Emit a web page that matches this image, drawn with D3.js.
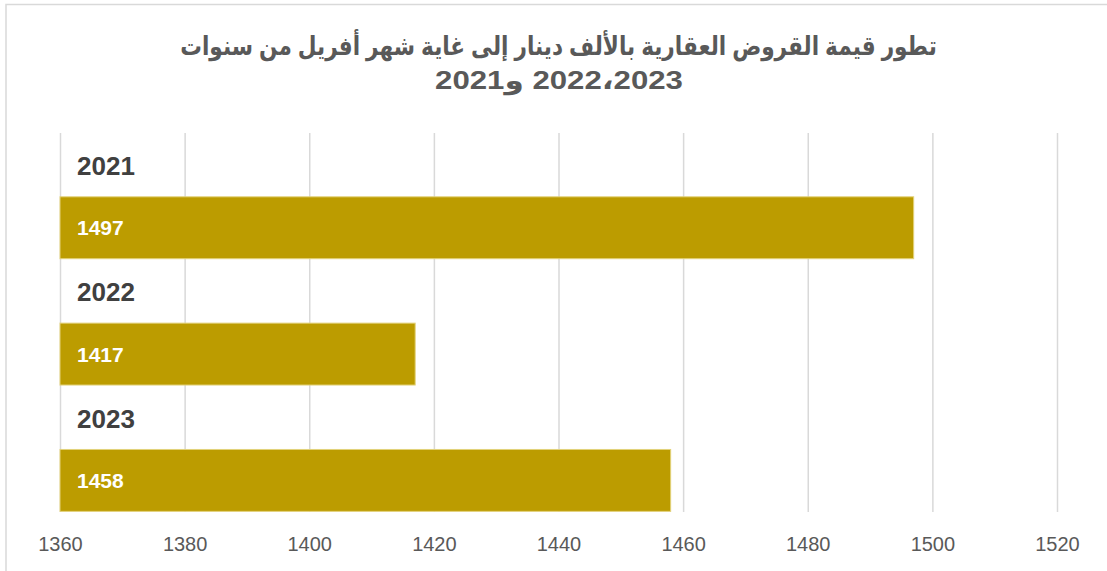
<!DOCTYPE html>
<html>
<head>
<meta charset="utf-8">
<script src="https://cdn.jsdelivr.net/npm/d3@7"></script>
<style>
  html, body { margin: 0; padding: 0; background: #fff; }
  svg { display: block; }
</style>
</head>
<body>
<svg id="chart" width="1107" height="571"></svg>
<script>
const categories = ["2021", "2022", "2023"];
const values = [1497, 1417, 1458];
const tickValues = [1360, 1380, 1400, 1420, 1440, 1460, 1480, 1500, 1520];
const titleLines = ["تطور قيمة القروض العقارية بالألف دينار إلى غاية شهر أفريل من سنوات", "2023،2022 و2021"];

const svg = d3.select("#chart");
const W = 1107, H = 571;

// frame
svg.append("rect").attr("x", 6).attr("y", 4.5).attr("width", W + 10).attr("height", H + 10)
  .attr("fill", "#fff").attr("stroke", "#d9d9d9").attr("stroke-width", 1.5);

const plot = { left: 60, right: 1057, top: 133, bottom: 512 };
const x = d3.scaleLinear().domain([1360, 1520]).range([plot.left, plot.right]);
const y = d3.scaleBand().domain(categories).range([plot.top, plot.bottom]);

// gridlines
const grid = svg.append("g").attr("transform", `translate(0,${plot.bottom})`)
  .call(d3.axisBottom(x).tickValues(tickValues).tickSize(-(plot.bottom - plot.top)).tickFormat(""));
grid.select(".domain").remove();
grid.selectAll(".tick line").attr("stroke", "#d9d9d9").attr("stroke-width", 1.5);

// axis labels
const ax = svg.append("g").attr("transform", `translate(0,${plot.bottom})`)
  .call(d3.axisBottom(x).tickValues(tickValues).tickSize(0).tickPadding(0).tickFormat(d3.format("d")));
ax.select(".domain").remove();
ax.selectAll(".tick text")
  .attr("y", 39).attr("dy", 0)
  .attr("font-family", "'Liberation Sans', Arial, sans-serif")
  .attr("font-size", 20).attr("fill", "#595959");

// bars
const bw = y.bandwidth();
svg.append("g").selectAll("rect").data(categories).join("rect")
  .attr("x", x(1360))
  .attr("y", d => y(d) + bw * 0.505)
  .attr("width", (d, i) => x(values[i]) - x(1360))
  .attr("height", bw * 0.49)
  .attr("fill", "#bc9c00")
  .attr("stroke", "#e3d27a").attr("stroke-width", 1);

// bar value labels
svg.append("g").selectAll("text").data(categories).join("text")
  .attr("x", 77)
  .attr("y", d => y(d) + bw * 0.505 + bw * 0.245 + 7.5)
  .attr("font-family", "'Liberation Sans', Arial, sans-serif")
  .attr("font-weight", "bold").attr("font-size", 21).attr("fill", "#fff")
  .text((d, i) => values[i]);

// category labels
svg.append("g").selectAll("text").data(categories).join("text")
  .attr("x", 77)
  .attr("y", d => y(d) + bw * 0.25 + 10.5)
  .attr("font-family", "'Liberation Sans', Arial, sans-serif")
  .attr("font-weight", "bold").attr("font-size", 26).attr("fill", "#404040")
  .text(d => d);

// title (right-to-left embedding; RLM around the Arabic comma keeps the years as separate runs)
const targets = [{ w: 757, cx: 558.5, base: 55 }, { w: 248, cx: 559, base: 89 }];
titleLines.forEach((line, i) => {
  const g = svg.append("g");
  const t = g.append("text")
    .attr("x", 0).attr("y", 0)
    .attr("text-anchor", "middle")
    .attr("font-family", "'Liberation Sans', 'DejaVu Sans', Arial, sans-serif")
    .attr("font-weight", "bold").attr("font-size", 26).attr("fill", "#595959")
    .text("\u202B" + line.replace(/،/g, "\u200F،\u200F") + "\u202C");
  const bb = t.node().getBBox();
  const s = targets[i].w / bb.width;
  const cxText = bb.x + bb.width / 2;
  g.attr("transform", `translate(${targets[i].cx},${targets[i].base}) scale(${s},1) translate(${-cxText},0)`);
});
</script>
</body>
</html>
